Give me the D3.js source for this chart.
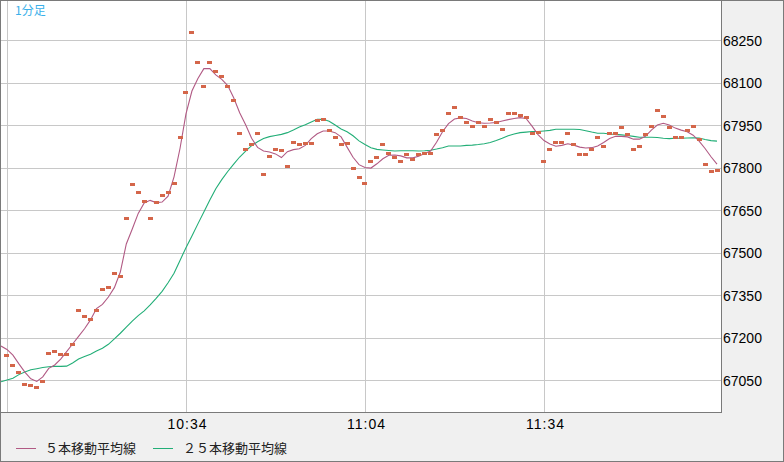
<!DOCTYPE html>
<html>
<head>
<meta charset="utf-8">
<script src="https://cdn.jsdelivr.net/npm/d3@7"></script>
<style>
html,body{margin:0;padding:0;background:#f0f0f0;}
svg{display:block;}
</style>
</head>
<body>
<svg id="chart" width="784" height="462"></svg>
<script>
// ---- data ----
const startTime = "10:03";
const endTime = "12:03";
// price dots, one per minute from 10:03 (no dot for 10:03)
const prices = [null,
67135,67100,67075,67035,67030,67025,67045,67145,67150,67140,
67140,67175,67295,67275,67265,67295,67370,67375,67425,67415,
67620,67740,67710,67680,67620,67675,67700,67710,67745,67905,
68065,68275,68170,68085,68170,68140,68120,68085,68035,67920,
67865,67880,67920,67775,67840,67865,67860,67805,67890,67880,
67885,67885,67965,67970,67930,67905,67880,67885,67795,67765,
67745,67820,67835,67880,67850,67835,67820,67845,67830,67845,
67850,67850,67915,67930,67990,68010,67975,67960,67945,67960,
67945,67970,67960,67935,67990,67990,67985,67975,67920,67925,
67820,67865,67890,67890,67920,67880,67845,67845,67865,67905,
67875,67920,67920,67940,67915,67865,67875,67915,67945,68000,
67980,67940,67905,67905,67930,67945,67900,67810,67785,67790];
// 5-period moving average
const ma5 = [67170,
67158,67138,67107,67078,67054,67045,67061,67091,67103,67124,
67150,67177,67204,67231,67262,67302,67317,67343,67376,67431,
67530,67583,67638,67675,67684,67676,67678,67699,67767,67867,
67989,68070,68114,68149,68149,68127,68111,68089,68046,67993,
67951,67903,67871,67858,67855,67848,67835,67856,67863,67866,
67878,67902,67919,67929,67929,67923,67908,67872,67836,67810,
67800,67798,67813,67831,67843,67844,67841,67834,67834,67840,
67849,67858,67889,67926,67955,67971,67975,67973,67964,67958,
67956,67957,67959,67964,67969,67973,67976,67973,67946,67916,
67895,67883,67875,67878,67884,67879,67872,67869,67870,67876,
67888,67902,67910,67910,67908,67900,67900,67910,67932,67950,
67956,67950,67939,67932,67926,67914,67893,67867,67838,67812];
// 25-period moving average
const ma25 = [67044,
67050,67056,67069,67078,67086,67090,67094,67097,67098,67098,
67099,67110,67124,67133,67141,67152,67162,67176,67195,67215,
67237,67258,67277,67294,67315,67338,67363,67393,67427,67472,
67517,67558,67601,67643,67685,67725,67757,67786,67812,67837,
67858,67877,67891,67902,67909,67913,67917,67923,67932,67943,
67951,67961,67970,67970,67963,67950,67936,67926,67912,67894,
67881,67870,67864,67862,67860,67858,67859,67859,67859,67858,
67859,67861,67865,67870,67876,67876,67876,67878,67879,67881,
67884,67888,67895,67903,67912,67918,67923,67925,67927,67927,
67929,67931,67935,67935,67935,67935,67934,67930,67925,67921,
67921,67918,67917,67915,67913,67910,67907,67907,67907,67906,
67903,67902,67903,67903,67904,67905,67904,67899,67895,67893];
const yTicks = [67050,67200,67350,67500,67650,67800,67950,68100,68250];
const xGridTimes = ["10:04","10:34","11:04","11:34"];
const xTickLabels = ["10:34","11:04","11:34"];
const periodLabel = "1分足";
const seriesNames = ["５本移動平均線","２５本移動平均線"];

// ---- chart ----
const parse = s => d3.timeParse("%Y-%m-%d %H:%M")("2000-01-01 " + s);
const t0 = parse(startTime), t1 = parse(endTime);
const times = d3.timeMinute.range(t0, d3.timeMinute.offset(t1, 1));

const svg = d3.select("#chart");
const W = 784, H = 462;
const plot = {left: 1, top: 1, right: 721, bottom: 412};

const x = d3.scaleTime().domain([t0, t1]).range([1, 717]);
const y = d3.scaleLinear().domain([67050, 68250]).range([380, 40]);

svg.append("rect").attr("x",0).attr("y",0).attr("width",W).attr("height",H).attr("fill","#f0f0f0");
svg.append("rect").attr("x",plot.left).attr("y",plot.top)
  .attr("width",plot.right-plot.left).attr("height",plot.bottom-plot.top).attr("fill","#ffffff");

svg.append("defs").append("clipPath").attr("id","clip").append("rect")
  .attr("x",plot.left).attr("y",plot.top)
  .attr("width",plot.right-plot.left).attr("height",plot.bottom-plot.top);

const grid = svg.append("g").attr("shape-rendering","crispEdges");
grid.selectAll("line.h").data(yTicks).join("line")
  .attr("x1",plot.left).attr("x2",plot.right)
  .attr("y1",d=>Math.round(y(d))+0.5).attr("y2",d=>Math.round(y(d))+0.5)
  .attr("stroke","#c8c8c8").attr("stroke-width",1);
grid.selectAll("line.v").data(xGridTimes.map(parse)).join("line")
  .attr("y1",plot.top).attr("y2",plot.bottom)
  .attr("x1",d=>Math.round(x(d))+0.5).attr("x2",d=>Math.round(x(d))+0.5)
  .attr("stroke","#c8c8c8").attr("stroke-width",1);

const g = svg.append("g").attr("clip-path","url(#clip)");
const line = d3.line().x((d,i)=>x(times[i])).y(d=>y(d));
g.append("path").datum(ma25).attr("d",line).attr("fill","none")
  .attr("stroke","#22ae77").attr("stroke-width",1.1);
g.append("path").datum(ma5).attr("d",line).attr("fill","none")
  .attr("stroke","#b15a84").attr("stroke-width",1.1);

const dotData = prices.map((v,i)=>({t:times[i], v})).filter(d=>d.v!==null);
g.selectAll("rect.dot").data(dotData).join("rect")
  .attr("x",d=>Math.round(x(d.t)-2.5)).attr("y",d=>Math.round(y(d.v)-1.5))
  .attr("width",5).attr("height",3).attr("fill","#d4664a")
  .attr("shape-rendering","crispEdges");

// borders
const border = svg.append("g").attr("shape-rendering","crispEdges").attr("fill","none").attr("stroke","#7a7a7a");
border.append("rect").attr("x",0.5).attr("y",0.5).attr("width",W-1).attr("height",H-1);
border.append("line").attr("x1",plot.right+0.5).attr("x2",plot.right+0.5).attr("y1",0).attr("y2",plot.bottom+1);
border.append("line").attr("x1",0).attr("x2",plot.right+1).attr("y1",plot.bottom+0.5).attr("y2",plot.bottom+0.5);

// y axis labels
const yAxis = d3.axisRight(y).tickValues(yTicks).tickSize(0).tickPadding(0).tickFormat(d3.format("d"));
const ya = svg.append("g").attr("transform",`translate(${plot.right+2},0)`).call(yAxis);
ya.select(".domain").remove();
ya.selectAll("text").attr("font-family","'Liberation Sans', Arial, sans-serif")
  .attr("font-size","14px").attr("fill","#000").attr("dy","0.36em");

// x axis labels
const xAxis = d3.axisBottom(x).tickValues(xTickLabels.map(parse)).tickSize(0).tickPadding(0)
  .tickFormat(d3.timeFormat("%H:%M"));
const xa = svg.append("g").attr("transform",`translate(1,${plot.bottom+7})`).call(xAxis);
xa.select(".domain").remove();
xa.selectAll("text").attr("font-family","'Liberation Sans', Arial, sans-serif")
  .attr("font-size","14px").attr("fill","#000").attr("letter-spacing","1px");

// period label
svg.append("text").attr("x",15).attr("y",15).text(periodLabel)
  .attr("font-family","'Noto Sans CJK JP', sans-serif").attr("font-size","12px").attr("fill","#3ab0ea");

// legend
const legendColors = ["#b15a84","#22ae77"];
const legendX = [16, 153];
seriesNames.forEach((name,i)=>{
  const lg = svg.append("g").attr("transform",`translate(${legendX[i]},448)`);
  lg.append("line").attr("x1",0).attr("x2",20).attr("y1",0.5).attr("y2",0.5)
    .attr("stroke",legendColors[i]).attr("stroke-width",1).attr("shape-rendering","crispEdges");
  lg.append("text").attr("x",29 + (i===1?1:0)).attr("y",5).text(name)
    .attr("font-family","'Noto Sans CJK JP', sans-serif").attr("font-size","13px").attr("fill","#222");
});
</script>
</body>
</html>
